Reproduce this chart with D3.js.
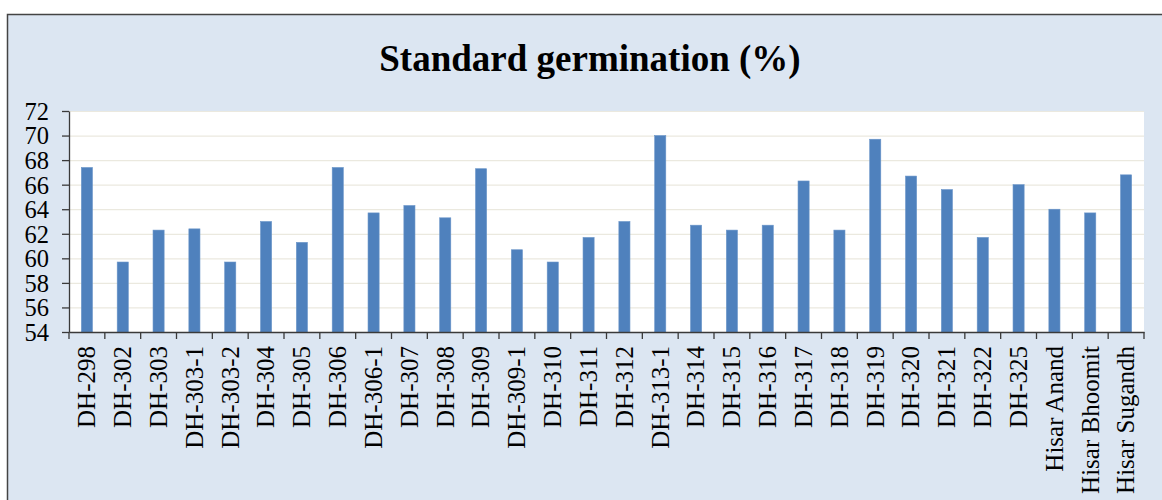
<!DOCTYPE html>
<html lang="en">
<head>
  <meta charset="UTF-8">
  <title>Standard germination</title>
  <style>
    body { margin: 0; background: #fff; }
    svg { display: block; }
    .bar { fill: #4f81bd; stroke: #6a95c9; stroke-width: 0.6; }
    .grid line { stroke: #ebe9df; stroke-width: 1.2; }
    .grid path { display: none; }
    .axis path, .axis line { stroke: #3a3a3a; stroke-width: 1.3; }
    .axis text { font-family: "Liberation Serif", "Times New Roman", serif; fill: #000; }
  </style>
</head>
<body>
  <svg width="1162" height="500"></svg>
  <script src="https://cdn.jsdelivr.net/npm/d3@7"></script>
  <script>
    var categories = ["DH-298", "DH-302", "DH-303", "DH-303-1", "DH-303-2", "DH-304", "DH-305",
      "DH-306", "DH-306-1", "DH-307", "DH-308", "DH-309", "DH-309-1", "DH-310", "DH-311",
      "DH-312", "DH-313-1", "DH-314", "DH-315", "DH-316", "DH-317", "DH-318", "DH-319",
      "DH-320", "DH-321", "DH-322", "DH-325", "Hisar Anand", "Hisar Bhoomit", "Hisar Sugandh"];
    var germination = [67.4, 59.7, 62.3, 62.4, 59.7, 63.0, 61.3,
      67.4, 63.7, 64.3, 63.3, 67.3, 60.7, 59.7, 61.7,
      63.0, 70.0, 62.7, 62.3, 62.7, 66.3, 62.3, 69.7,
      66.7, 65.6, 61.7, 66.0, 64.0, 63.7, 66.8];
    var yTicks = [54, 56, 58, 60, 62, 64, 66, 68, 70, 72];
    var title = "Standard germination (%)";

    var svg = d3.select("svg"),
      margin = {top: 111, right: 18, bottom: 168, left: 69},
      width = +svg.attr("width") - margin.left - margin.right,
      height = +svg.attr("height") - margin.top - margin.bottom;

    // chart area background with border
    svg.append("rect")
      .attr("x", 7.5).attr("y", 14.5)
      .attr("width", 1300).attr("height", 600)
      .attr("fill", "#dce6f2")
      .attr("stroke", "#444").attr("stroke-width", 1.5);

    svg.append("text")
      .attr("x", 590).attr("y", 71)
      .attr("text-anchor", "middle")
      .style("font-family", "'Liberation Serif', 'Times New Roman', serif")
      .style("font-weight", "bold")
      .style("font-size", "37px")
      .text(title);

    var g = svg.append("g")
      .attr("transform", "translate(" + margin.left + "," + margin.top + ")");

    var x = d3.scaleBand().domain(categories).range([0, width]).paddingInner(0.69).paddingOuter(0.345),
      y = d3.scaleLinear().domain([54, 72]).range([height, 0]);

    // plot area
    g.append("rect")
      .attr("width", width).attr("height", height)
      .attr("fill", "#fff");

    // gridlines
    g.append("g")
      .attr("class", "grid")
      .call(d3.axisLeft(y).tickValues(yTicks.slice(1)).tickSize(-width).tickFormat(""));

    // bars
    g.selectAll(".bar")
      .data(categories)
      .enter()
      .append("rect")
      .attr("class", "bar")
      .attr("x", function(d) { return x(d); })
      .attr("y", function(d, i) { return y(germination[i]); })
      .attr("width", x.bandwidth())
      .attr("height", function(d, i) { return height - y(germination[i]); });

    // y axis
    g.append("g")
      .attr("class", "axis axis--y")
      .call(d3.axisLeft(y).tickValues(yTicks).tickSize(7).tickSizeOuter(0).tickPadding(13))
      .selectAll("text")
      .style("font-size", "24.5px")
      .attr("dy", "0.34em");

    // x axis: labels at band centres, ticks at band boundaries
    var xAxis = g.append("g")
      .attr("class", "axis axis--x")
      .attr("transform", "translate(0," + height + ")")
      .call(d3.axisBottom(x).tickSize(0).tickSizeOuter(0));

    xAxis.selectAll("text")
      .style("font-size", "25px")
      .style("text-anchor", "end")
      .attr("transform", "rotate(-90)")
      .attr("x", -14)
      .attr("y", 0)
      .attr("dy", "0.33em");

    var step = x.step();
    var bounds = d3.range(categories.length + 1).map(function(i) { return i * step; });
    xAxis.selectAll(".bound")
      .data(bounds)
      .enter()
      .append("line")
      .attr("class", "bound")
      .attr("x1", function(d) { return d; })
      .attr("x2", function(d) { return d; })
      .attr("y1", 0)
      .attr("y2", 7);
  </script>
</body>
</html>
